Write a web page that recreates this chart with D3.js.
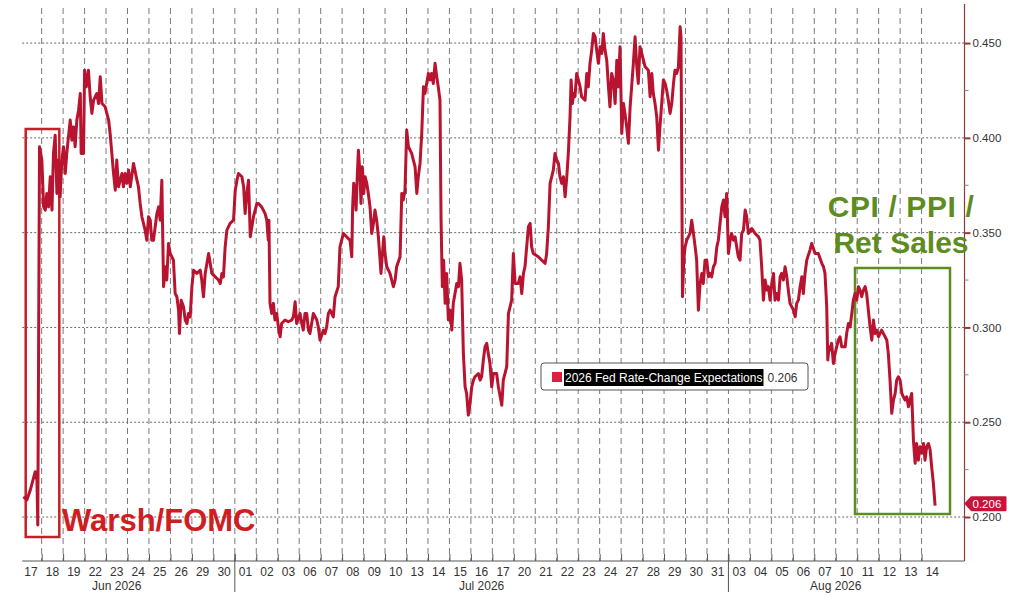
<!DOCTYPE html>
<html>
<head>
<meta charset="utf-8">
<script src="https://cdn.jsdelivr.net/npm/d3@7"></script>
<style>
  body { margin: 0; background: #fff; }
  svg { display: block; }
  text { font-family: "Liberation Sans", Arial, sans-serif; }
</style>
</head>
<body>
<svg id="mainsvg" width="1014" height="606"></svg>
<script>
// trading days shown on the x axis (one slot each, plus an empty slot at the end)
const dayLabels = ['17','18','19','22','23','24','25','26','29','30',
  '01','02','03','06','07','08','09','10','13','14','15','16','17','20','21','22','23','24','27','28','29','30','31',
  '03','04','05','06','07','10','11','12','13','14'];
const monthLabels = ['Jun 2026', 'Jul 2026', 'Aug 2026'];
const monthStart = [-1, 10, 33];
const monthEnd = [10, 33, 43];
const yTicks = [0.200, 0.250, 0.300, 0.350, 0.400, 0.450];
const yMinorTicks = [0.225, 0.275, 0.325, 0.375, 0.425];
const seriesName = '2026 Fed Rate-Change Expectations';
const lastValue = 0.206;

// [trading days since 17 Jun open, expected change]
const fedPath = [
  [0.15,.2107],[0.31,.2090],[0.47,.2142],[0.70,.2239],[0.78,.2195],[0.82,.1958],[0.90,.3953],[1.01,.3883],[1.09,.3636],[1.17,.3619],
  [1.24,.3707],[1.32,.3636],[1.40,.3795],[1.48,.3619],[1.55,.3918],[1.63,.4014],[1.71,.3707],[1.79,.3883],[1.86,.3689],[1.94,.3883],
  [2.02,.3953],[2.10,.3812],[2.17,.3918],[2.33,.4094],[2.41,.3988],[2.49,.4058],[2.56,.3953],[2.64,.4094],[2.72,.4146],[2.80,.4234],
  [2.84,.3918],[2.95,.3918],[3.00,.4357],[3.08,.4269],[3.18,.4357],[3.26,.4217],[3.34,.4129],[3.42,.4199],[3.57,.4234],[3.65,.4181],
  [3.73,.4322],[3.81,.4181],[3.96,.4164],[4.12,.4094],[4.19,.4023],[4.27,.3918],[4.35,.3812],[4.43,.3724],[4.50,.3883],[4.58,.3742],
  [4.74,.3812],[4.81,.3742],[4.89,.3812],[4.97,.3760],[5.05,.3830],[5.13,.3742],[5.28,.3865],[5.44,.3777],[5.51,.3742],[5.59,.3654],
  [5.67,.3584],[5.82,.3513],[5.90,.3460],[5.98,.3584],[6.06,.3566],[6.13,.3460],[6.21,.3460],[6.29,.3531],[6.37,.3601],[6.45,.3636],
  [6.52,.3566],[6.60,.3777],[6.68,.3215],[6.76,.3320],[6.83,.3250],[6.91,.3443],[6.99,.3390],[7.14,.3355],[7.22,.3179],[7.30,.3162],
  [7.38,.3091],[7.42,.2968],[7.50,.3144],[7.61,.3109],[7.69,.3039],[7.77,.3021],[7.84,.3074],[7.92,.3056],[8.00,.3215],[8.08,.3302],
  [8.23,.3285],[8.39,.3302],[8.46,.3250],[8.54,.3162],[8.62,.3285],[8.78,.3390],[8.93,.3285],[9.09,.3267],[9.24,.3250],[9.32,.3232],
  [9.40,.3285],[9.47,.3267],[9.55,.3425],[9.63,.3513],[9.78,.3549],[9.94,.3566],[10.02,.3724],[10.10,.3777],[10.17,.3812],[10.33,.3795],
  [10.41,.3742],[10.48,.3601],[10.56,.3707],[10.64,.3777],[10.72,.3478],[10.87,.3584],[11.03,.3654],
  [11.10,.3654],[11.25,.3636],[11.41,.3601],[11.49,.3566],[11.56,.3460],[11.59,.3566],[11.64,.3127],[11.72,.3074],[11.80,.3127],[11.87,.3039],
  [11.95,.3074],[12.03,.3003],[12.11,.2951],[12.18,.3021],[12.34,.3039],[12.49,.3030],[12.65,.3039],[12.73,.3056],[12.81,.3135],[12.88,.3021],
  [13.04,.3074],[13.12,.3021],[13.19,.2986],[13.27,.3074],[13.35,.3074],[13.43,.2986],[13.50,.2968],[13.58,.3021],[13.66,.3074],[13.82,.3039],
  [13.89,.3003],[13.97,.2933],[14.13,.2986],[14.20,.2968],[14.28,.3003],[14.36,.3074],[14.44,.3091],[14.59,.3056],[14.67,.3162],[14.82,.3215],
  [14.90,.3425],[15.06,.3496],[15.21,.3478],[15.37,.3460],[15.45,.3373],[15.49,.3636],[15.54,.3760],[15.60,.3707],[15.65,.3619],[15.71,.3812],
  [15.76,.3935],[15.83,.3812],[15.88,.3654],[15.94,.3847],[16.01,.3707],[16.07,.3795],[16.15,.3760],[16.22,.3707],[16.30,.3636],[16.38,.3496],
  [16.46,.3549],[16.53,.3619],[16.61,.3566],[16.69,.3478],[16.77,.3355],[16.81,.3285],[16.88,.3390],[16.94,.3478],[17.00,.3390],[17.08,.3320],
  [17.23,.3285],[17.31,.3250],[17.39,.3215],[17.47,.3250],[17.54,.3320],[17.70,.3373],[17.78,.3707],[17.85,.3672],[17.93,.3724],[18.01,.4041],
  [18.09,.3953],[18.24,.3918],[18.32,.3883],[18.40,.3847],[18.48,.3707],[18.55,.3795],[18.63,.3865],[18.71,.4023],[18.79,.4269],[18.86,.4234],
  [18.94,.4287],[19.02,.4340],[19.10,.4305],[19.17,.4340],[19.25,.4287],[19.33,.4393],[19.41,.4322],[19.48,.4269],[19.56,.4199],[19.61,.3566],
  [19.67,.3215],[19.73,.3355],[19.80,.3127],[19.87,.3285],[19.95,.3039],[20.03,.3091],[20.11,.2986],[20.18,.3127],[20.26,.3179],[20.34,.3232],
  [20.42,.3215],[20.49,.3338],[20.57,.3250],[20.65,.2863],[20.73,.2687],[20.80,.2652],[20.88,.2538],[20.96,.2599],[21.04,.2687],[21.12,.2722],
  [21.19,.2740],[21.35,.2757],[21.43,.2722],[21.50,.2740],[21.58,.2828],[21.66,.2898],[21.74,.2916],[21.81,.2863],[21.89,.2810],[21.97,.2687],
  [22.05,.2757],[22.20,.2757],
  [22.28,.2687],[22.44,.2590],[22.51,.2722],[22.67,.2793],[22.75,.3074],[22.90,.3144],[22.98,.3390],[23.06,.3232],[23.21,.3232],[23.29,.3267],
  [23.37,.3179],[23.45,.3285],[23.52,.3320],[23.60,.3425],[23.68,.3531],[23.76,.3549],[23.83,.3425],[23.91,.3390],[24.14,.3373],[24.30,.3355],
  [24.46,.3338],[24.53,.3390],[24.61,.3531],[24.69,.3760],[24.84,.3830],[24.92,.3918],[25.00,.3883],[25.08,.3865],[25.15,.3795],[25.23,.3760],
  [25.31,.3795],[25.39,.3689],[25.47,.3795],[25.54,.3918],[25.62,.4111],[25.67,.4305],[25.73,.4181],[25.79,.4234],[25.85,.4217],[25.93,.4340],
  [26.01,.4305],[26.09,.4269],[26.16,.4217],[26.32,.4199],[26.40,.4340],[26.47,.4269],[26.55,.4393],[26.63,.4463],[26.71,.4551],[26.79,.4533],
  [26.86,.4463],[26.94,.4393],[27.02,.4480],[27.10,.4445],[27.17,.4551],[27.25,.4463],[27.33,.4410],[27.41,.4269],[27.48,.4164],[27.56,.4340],
  [27.64,.4305],[27.72,.4181],[27.80,.4410],[27.87,.4269],[27.95,.4480],[28.03,.4023],[28.11,.4181],[28.18,.4129],[28.26,.4058],[28.34,.3971],
  [28.42,.4164],[28.49,.4269],[28.57,.4393],[28.65,.4533],[28.73,.4375],[28.80,.4287],[28.88,.4480],[28.96,.4445],[29.12,.4375],[29.27,.4357],
  [29.35,.4217],[29.43,.4340],[29.50,.4234],[29.58,.4181],[29.66,.4111],[29.74,.3935],[29.81,.4058],[29.89,.4181],[29.97,.4305],[30.05,.4287],
  [30.12,.4252],[30.20,.4199],[30.28,.4129],[30.36,.4181],[30.44,.4287],[30.51,.4357],[30.59,.4340],[30.67,.4375],[30.75,.4586],[30.79,.4533],
  [30.86,.3162],[30.92,.3355],[30.98,.3425],[31.06,.3460],[31.21,.3496],[31.29,.3566],[31.37,.3496],[31.45,.3425],[31.52,.3355],[31.60,.3091],
  [31.68,.3232],[31.76,.3285],[31.83,.3232],[31.91,.3355],[31.99,.3355],[32.07,.3267],[32.14,.3285],[32.22,.3267],[32.30,.3320],[32.38,.3338],
  [32.46,.3425],[32.53,.3460],[32.61,.3549],[32.69,.3636],[32.77,.3672],[32.84,.3584],[32.92,.3707],[33.00,.3390],[33.08,.3460],[33.15,.3496],
  [33.23,.3460],[33.31,.3478],[33.46,.3373],
  [33.54,.3355],[33.62,.3496],[33.70,.3513],[33.78,.3619],[33.85,.3584],[33.93,.3496],[34.09,.3522],[34.24,.3496],[34.40,.3478],[34.47,.3460],
  [34.55,.3320],[34.63,.3144],[34.71,.3250],[34.79,.3197],[34.86,.3215],[34.94,.3144],[35.02,.3232],[35.10,.3285],[35.17,.3144],[35.25,.3179],
  [35.33,.3144],[35.41,.3267],[35.48,.3285],[35.56,.3250],[35.64,.3320],[35.72,.3267],[35.79,.3197],[35.87,.3127],[36.03,.3091],[36.11,.3056],
  [36.18,.3127],[36.26,.3144],[36.34,.3215],[36.42,.3267],[36.49,.3179],[36.57,.3285],[36.65,.3355],[36.80,.3408],[36.88,.3443],[37.04,.3390],
  [37.19,.3390],[37.35,.3338],[37.43,.3320],[37.50,.3285],[37.58,.3109],[37.63,.2828],[37.69,.2898],[37.74,.2880],[37.81,.2916],[37.89,.2810],
  [37.97,.2863],[38.12,.2933],[38.20,.2951],[38.28,.2898],[38.44,.2898],[38.51,.2968],[38.59,.3021],[38.67,.3003],[38.75,.3074],[38.82,.3144],
  [38.90,.3179],[38.98,.3144],[39.06,.3215],[39.13,.3197],[39.21,.3162],[39.29,.3197],[39.37,.3215],[39.44,.3179],[39.52,.3091],[39.60,.3003],
  [39.68,.2933],[39.76,.3039],[39.83,.2968],[39.91,.2986],[39.99,.2951],[40.14,.2986],[40.30,.2951],[40.38,.2933],[40.45,.2863],[40.53,.2722],
  [40.61,.2547],[40.69,.2617],[40.77,.2652],[40.84,.2722],[40.92,.2740],[41.00,.2722],[41.08,.2652],[41.15,.2634],[41.23,.2617],[41.31,.2634],
  [41.39,.2582],[41.46,.2617],[41.54,.2652],[41.62,.2406],[41.70,.2283],[41.77,.2388],[41.85,.2300],[41.93,.2371],[42.01,.2336],[42.09,.2388],
  [42.16,.2300],[42.24,.2371],[42.32,.2388],[42.40,.2353],[42.47,.2265],[42.55,.2177],[42.63,.2060]
];

const lineColor = '#b8132f';
const axisColor = '#8e3b3b';

const svg = d3.select('#mainsvg');
const plot = { left: 20.2, right: 964.5, top: 8, bottom: 561 };

const xScale = d3.scaleLinear().domain([0, 44]).range([plot.left, plot.right]);
const yScale = d3.scaleLinear().domain([0.1768, 0.4685]).range([plot.bottom, plot.top]);

// grid
const grid = svg.append('g');
grid.selectAll('.vgrid')
  .data(d3.range(1, dayLabels.length))
  .join('line')
  .attr('x1', d => xScale(d)).attr('x2', d => xScale(d))
  .attr('y1', plot.top).attr('y2', plot.bottom)
  .attr('stroke', '#7a7a7a').attr('stroke-width', 1)
  .attr('stroke-dasharray', '6,4');
grid.selectAll('.hgrid')
  .data(yTicks)
  .join('line')
  .attr('x1', plot.left + 2).attr('x2', plot.right)
  .attr('y1', d => yScale(d)).attr('y2', d => yScale(d))
  .attr('stroke', '#666').attr('stroke-width', 1)
  .attr('stroke-dasharray', '2,2');

// x axis
const xAxis = d3.axisBottom(xScale)
  .tickValues(d3.range(1, dayLabels.length))
  .tickSize(-7)
  .tickFormat('');
const gx = svg.append('g')
  .attr('transform', `translate(0, ${plot.bottom})`)
  .call(xAxis);
gx.select('.domain').attr('d', `M${plot.left + 2},0H${plot.right}`).attr('stroke', '#555');
gx.selectAll('.tick line').attr('stroke', '#555');

gx.selectAll('.daylabel')
  .data(dayLabels)
  .join('text')
  .attr('x', (d, i) => xScale(i + 0.5))
  .attr('y', 14.5)
  .attr('text-anchor', 'middle')
  .attr('font-size', 12)
  .attr('fill', '#333')
  .text(d => d);

gx.selectAll('.monthsep')
  .data(monthStart.filter(d => d > 0))
  .join('line')
  .attr('x1', d => xScale(d)).attr('x2', d => xScale(d))
  .attr('y1', -7).attr('y2', 31)
  .attr('stroke', '#555');

gx.selectAll('.monthlabel')
  .data(monthLabels)
  .join('text')
  .attr('x', (d, i) => xScale((monthStart[i] + monthEnd[i]) / 2))
  .attr('y', 29)
  .attr('text-anchor', 'middle')
  .attr('font-size', 12)
  .attr('fill', '#333')
  .text(d => d);

// right y axis
const yAxis = d3.axisRight(yScale)
  .tickValues(yTicks)
  .tickSize(6)
  .tickPadding(2)
  .tickFormat(d3.format('.3f'));
const gy = svg.append('g')
  .attr('transform', `translate(${plot.right}, 0)`)
  .call(yAxis);
gy.select('.domain').attr('d', `M0,${plot.top - 4}V${plot.bottom}`).attr('stroke', axisColor).attr('stroke-width', 1.2);
gy.selectAll('.tick line').attr('stroke', axisColor).attr('stroke-width', 2);
gy.selectAll('.tick text')
  .attr('font-size', 11.5)
  .attr('font-family', '"Liberation Sans", Arial, sans-serif')
  .attr('fill', '#333');
gy.selectAll('.minor')
  .data(yMinorTicks)
  .join('line')
  .attr('x1', 0).attr('x2', 4)
  .attr('y1', d => yScale(d)).attr('y2', d => yScale(d))
  .attr('stroke', '#888');

// annotation boxes
svg.append('rect')
  .attr('x', 25.7).attr('y', 129).attr('width', 33.6).attr('height', 408)
  .attr('fill', 'none').attr('stroke', '#c42027').attr('stroke-width', 2.5);
svg.append('rect')
  .attr('x', 855).attr('y', 268).attr('width', 95).attr('height', 246)
  .attr('fill', 'none').attr('stroke', '#5d8c1f').attr('stroke-width', 2.5);

// series line
const line = d3.line()
  .x(d => xScale(d[0]))
  .y(d => yScale(d[1]));
svg.append('path')
  .datum(fedPath)
  .attr('d', line)
  .attr('fill', 'none')
  .attr('stroke', lineColor)
  .attr('stroke-width', 3)
  .attr('stroke-linejoin', 'round');

// annotation texts
svg.append('text')
  .attr('x', 62).attr('y', 530.5)
  .attr('font-size', 31).attr('font-weight', 'bold')
  .attr('fill', '#d01d1f')
  .text('Warsh/FOMC');
svg.append('text')
  .attr('x', 901).attr('y', 217)
  .attr('text-anchor', 'middle')
  .attr('font-size', 30).attr('font-weight', 'bold')
  .attr('letter-spacing', 0.6)
  .attr('fill', '#5d8c1f')
  .text('CPI / PPI /');
svg.append('text')
  .attr('x', 901).attr('y', 253)
  .attr('text-anchor', 'middle')
  .attr('font-size', 30).attr('font-weight', 'bold')
  .attr('fill', '#5d8c1f')
  .text('Ret Sales');

// last value tag
const ty = yScale(lastValue) - 2;
const tag = d3.path();
tag.moveTo(plot.right + 1, ty);
tag.lineTo(plot.right + 7, ty - 6.5);
tag.lineTo(plot.right + 41, ty - 6.5);
tag.lineTo(plot.right + 41, ty + 6.5);
tag.lineTo(plot.right + 7, ty + 6.5);
tag.closePath();
svg.append('path')
  .attr('d', tag.toString())
  .attr('fill', '#c8143a')
  .attr('stroke', '#c8143a')
  .attr('stroke-linejoin', 'round')
  .attr('stroke-width', 2);
svg.append('text')
  .attr('x', plot.right + 8).attr('y', ty + 4)
  .attr('font-size', 11.5).attr('fill', '#fff')
  .text(d3.format('.3f')(lastValue));

// legend
const lg = svg.append('g').attr('transform', 'translate(541, 363)');
lg.append('rect')
  .attr('width', 267).attr('height', 27).attr('rx', 3)
  .attr('fill', '#fff').attr('stroke', '#555').attr('stroke-width', 1);
lg.append('rect')
  .attr('x', 11).attr('y', 9).attr('width', 10).attr('height', 10)
  .attr('fill', '#dc1f3e');
const hl = lg.append('rect').attr('x', 23).attr('y', 6).attr('height', 17).attr('fill', '#000');
const lt = lg.append('text')
  .attr('x', 24).attr('y', 19)
  .attr('font-size', 12).attr('fill', '#fff')
  .text(seriesName);
const tw = lt.node().getComputedTextLength();
hl.attr('width', tw + 2);
lg.append('text')
  .attr('x', 24 + tw + 5).attr('y', 19)
  .attr('font-size', 12).attr('fill', '#333')
  .text(d3.format('.3f')(lastValue));
</script>
</body>
</html>
